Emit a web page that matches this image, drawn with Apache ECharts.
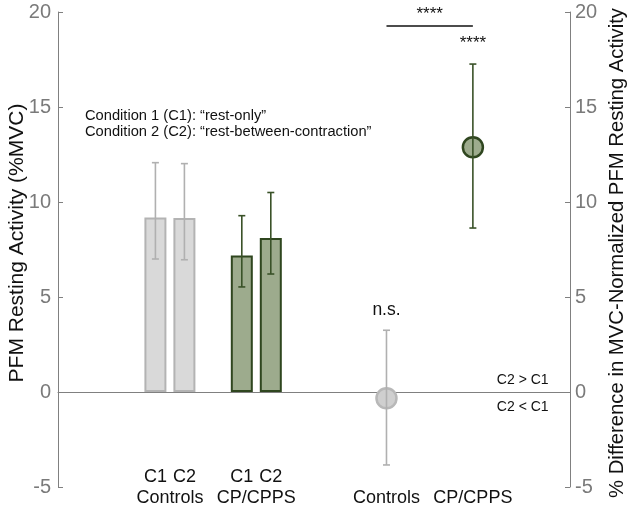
<!DOCTYPE html>
<html>
<head>
<meta charset="utf-8">
<script src="https://cdn.jsdelivr.net/npm/echarts@6/dist/echarts.min.js"></script>
<style>html,body{margin:0;padding:0;background:#fff}#c{width:633px;height:517px}</style>
</head>
<body>
<div id="c"></div>
<script>
// ---- data ----
const barX = [3.36, 4.36, 6.34, 7.34];
const barConditions = ['C1', 'C2', 'C1', 'C2'];
const barGroups = ['Controls', 'Controls', 'CP/CPPS', 'CP/CPPS'];
const barMeans = [9.19, 9.16, 7.18, 8.10];
const barErrLow = [7.00, 6.96, 5.53, 6.21];
const barErrHigh = [12.07, 12.02, 9.28, 10.50];

const diffX = [11.33, 14.31];
const diffGroups = ['Controls', 'CP/CPPS'];
const diffMeans = [-0.33, 12.88];
const diffErrLow = [-3.84, 8.63];
const diffErrHigh = [3.25, 17.26];

const yTicks = [-5, 0, 5, 10, 15, 20];

// ---- styles ----
const GREY_FILL = '#d9d9d9', GREY_EDGE = '#b3b3b3';
const GREEN_FILL = '#9dab8d', GREEN_EDGE = '#2f461f', GREEN_ERR = '#3a5228';
const FONT = 'Liberation Sans, Arial, Helvetica, sans-serif';
const isGreen = g => g === 'CP/CPPS';

const chart = echarts.init(document.getElementById('c'), null, {renderer: 'canvas'});

function errRender(params, api) {
  const x = api.value(0), lo = api.value(1), hi = api.value(2);
  const pTop = api.coord([x, hi]), pBot = api.coord([x, lo]);
  const col = api.visual('color');
  const cap = 3.5;
  const st = {stroke: col, lineWidth: 1.6};
  return {type: 'group', children: [
    {type: 'line', shape: {x1: pTop[0], y1: pTop[1], x2: pBot[0], y2: pBot[1]}, style: st},
    {type: 'line', shape: {x1: pTop[0]-cap, y1: pTop[1], x2: pTop[0]+cap, y2: pTop[1]}, style: st},
    {type: 'line', shape: {x1: pBot[0]-cap, y1: pBot[1], x2: pBot[0]+cap, y2: pBot[1]}, style: st}
  ]};
}

const yAxisCommon = {
  type: 'value', min: yTicks[0], max: yTicks[yTicks.length - 1], interval: 5,
  splitLine: {show: false},
  axisLine: {show: true, lineStyle: {color: '#808080', width: 1}},
  axisTick: {show: true, inside: true, length: 5, lineStyle: {color: '#808080'}},
  axisLabel: {color: '#7a7a7a', fontSize: 20, fontFamily: FONT}
};

const option = {
  animation: false,
  backgroundColor: '#fff',
  grid: {left: 58, right: 63, top: 12, bottom: 30, containLabel: false},
  xAxis: {
    type: 'value', min: 0, max: 17.66,
    axisLine: {show: true, onZero: true, lineStyle: {color: '#808080', width: 1}},
    axisTick: {show: false}, axisLabel: {show: false}, splitLine: {show: false}
  },
  yAxis: [
    Object.assign({}, yAxisCommon, {position: 'left', axisLabel: Object.assign({}, yAxisCommon.axisLabel, {margin: 7})}),
    Object.assign({}, yAxisCommon, {position: 'right', axisLabel: Object.assign({}, yAxisCommon.axisLabel, {margin: 5})})
  ],
  series: [
    {
      type: 'bar', barWidth: 22, z: 2,
      data: barX.map((x, i) => ({
        value: [x, barMeans[i]],
        itemStyle: {
          color: isGreen(barGroups[i]) ? GREEN_FILL : GREY_FILL,
          borderColor: isGreen(barGroups[i]) ? GREEN_EDGE : GREY_EDGE,
          borderWidth: 2
        }
      }))
    },
    {
      type: 'scatter', symbol: 'circle', symbolSize: 20, z: 3,
      data: diffX.map((x, i) => ({
        value: [x, diffMeans[i]],
        itemStyle: {
          color: isGreen(diffGroups[i]) ? GREEN_FILL : '#cfcfcf',
          borderColor: isGreen(diffGroups[i]) ? GREEN_EDGE : '#b8b8b8',
          borderWidth: 2.5, opacity: 1
        }
      }))
    },
    {
      type: 'custom', renderItem: errRender, z: 4,
      data: barX.map((x, i) => ({
        value: [x, barErrLow[i], barErrHigh[i]],
        itemStyle: {color: isGreen(barGroups[i]) ? GREEN_ERR : '#b0b0b0'}
      })).concat(diffX.map((x, i) => ({
        value: [x, diffErrLow[i], diffErrHigh[i]],
        itemStyle: {color: isGreen(diffGroups[i]) ? GREEN_ERR : '#b0b0b0'}
      })))
    }
  ]
};
chart.setOption(option);

// ---- annotations positioned through the chart's coordinate system ----
const px = (x, y) => chart.convertToPixel({gridIndex: 0}, [x, y]);
const txt = (x, y, text, size, align, extra) => Object.assign({
  type: 'text', x: x, y: y,
  style: {text: text, fill: '#111', fontSize: size, fontFamily: FONT, align: align || 'center', verticalAlign: 'middle'}
}, extra || {});

const g = [];
// x labels under bars
barX.forEach((x, i) => {
  const p = px(x, 0);
  g.push(txt(p[0], 477, barConditions[i], 18));
});
[[0, 1], [2, 3]].forEach(pair => {
  const p = px((barX[pair[0]] + barX[pair[1]]) / 2, 0);
  g.push(txt(p[0], 498, barGroups[pair[0]], 18));
});
diffX.forEach((x, i) => {
  const p = px(x, 0);
  g.push(txt(p[0], 498, diffGroups[i], 18));
});
// condition legend text
let p = px(0.93, 14.53);
g.push(txt(p[0], p[1], 'Condition 1 (C1): \u201crest-only\u201d', 14.7, 'left'));
p = px(0.93, 13.68);
g.push(txt(p[0], p[1], 'Condition 2 (C2): \u201crest-between-contraction\u201d', 14.7, 'left'));
// significance bracket
const b1 = px(diffX[0], 19.26), b2 = px(diffX[1], 19.26);
g.push({type: 'line', shape: {x1: b1[0], y1: b1[1], x2: b2[0], y2: b2[1]}, style: {stroke: '#111', lineWidth: 1.5}});
g.push(txt((b1[0] + b2[0]) / 2, b1[1] - 12, '****', 17));
p = px(diffX[1], 18.58);
g.push(txt(p[0], p[1] + 4, '****', 17));
p = px(diffX[0], 4.3);
g.push(txt(p[0], p[1], 'n.s.', 17.5));
p = px(16.03, 0.63);
g.push(txt(p[0], p[1], 'C2 > C1', 14));
p = px(16.03, -0.79);
g.push(txt(p[0], p[1], 'C2 < C1', 14));
// axis titles
g.push({type: 'text', x: 17, y: 243, rotation: Math.PI / 2,
  style: {text: 'PFM Resting Activity (%MVC)', fill: '#111', fontSize: 21, fontFamily: FONT, align: 'center', verticalAlign: 'middle'}});
g.push({type: 'text', x: 617, y: 253, rotation: Math.PI / 2,
  style: {text: '% Difference in MVC-Normalized PFM Resting Activity', fill: '#111', fontSize: 20.3, fontFamily: FONT, align: 'center', verticalAlign: 'middle'}});

chart.setOption({graphic: g});
</script>
</body>
</html>
